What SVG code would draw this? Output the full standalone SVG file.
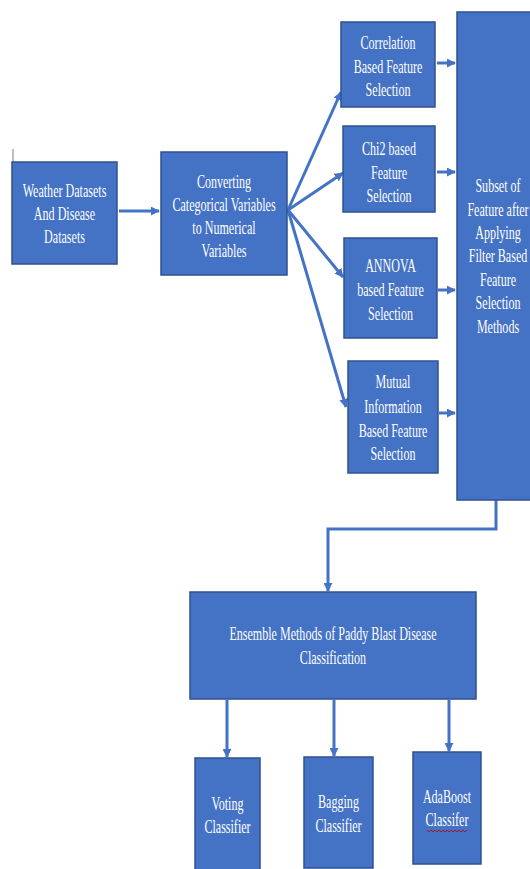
<svg xmlns="http://www.w3.org/2000/svg" width="530" height="869" viewBox="0 0 530 869">
<defs>
<marker id="ah" viewBox="0 0 10 10" refX="9" refY="5" markerWidth="3" markerHeight="3" orient="auto">
<path d="M0,0 L10,5 L0,10 z" fill="#4472C4"/>
</marker>
<style>
.box{fill:#4472C4;stroke:#2F528F;stroke-width:1.5}
.t{font-family:"Liberation Serif","Times New Roman",serif;font-size:18px;fill:#FFFFFF;text-anchor:middle}
.c{fill:none;stroke:#4472C4;stroke-width:3}
</style>
</defs>
<rect width="530" height="869" fill="#FFFFFF"/>
<line x1="13" y1="149" x2="13" y2="163" stroke="#808080" stroke-width="1"/>
<g id="connectors">
<line class="c" x1="119" y1="211" x2="159" y2="211" marker-end="url(#ah)"/>
<line class="c" x1="288" y1="210" x2="341" y2="92" marker-end="url(#ah)"/>
<line class="c" x1="288" y1="210" x2="343" y2="173" marker-end="url(#ah)"/>
<line class="c" x1="288" y1="210" x2="343" y2="277" marker-end="url(#ah)"/>
<line class="c" x1="288" y1="210" x2="346" y2="407" marker-end="url(#ah)"/>
<line class="c" x1="437" y1="63" x2="455" y2="63" marker-end="url(#ah)"/>
<line class="c" x1="437" y1="172" x2="455" y2="172" marker-end="url(#ah)"/>
<line class="c" x1="438" y1="290" x2="455" y2="290" marker-end="url(#ah)"/>
<line class="c" x1="439" y1="413" x2="455" y2="413" marker-end="url(#ah)"/>
<polyline class="c" points="496,500 496,529 328,529 328,591" marker-end="url(#ah)"/>
<line class="c" x1="227" y1="700" x2="227" y2="757" marker-end="url(#ah)"/>
<line class="c" x1="334" y1="700" x2="334" y2="756" marker-end="url(#ah)"/>
<line class="c" x1="449" y1="700" x2="449" y2="751" marker-end="url(#ah)"/>
</g>
<g id="weather">
<rect class="box" x="12" y="162" width="105" height="102"/>
<text class="t" transform="translate(64.5,197) scale(0.67,1)">Weather Datasets</text>
<text class="t" transform="translate(64.5,220) scale(0.67,1)">And Disease</text>
<text class="t" transform="translate(64.5,243) scale(0.67,1)">Datasets</text>
</g>
<g id="converting">
<rect class="box" x="161" y="152" width="126" height="123"/>
<text class="t" transform="translate(224,188) scale(0.67,1)">Converting</text>
<text class="t" transform="translate(224,211) scale(0.67,1)">Categorical Variables</text>
<text class="t" transform="translate(224,234) scale(0.67,1)">to Numerical</text>
<text class="t" transform="translate(224,257) scale(0.67,1)">Variables</text>
</g>
<g id="correlation">
<rect class="box" x="341" y="22" width="94" height="85"/>
<text class="t" transform="translate(388,49) scale(0.67,1)">Correlation</text>
<text class="t" transform="translate(388,72.5) scale(0.67,1)">Based Feature</text>
<text class="t" transform="translate(388,96) scale(0.67,1)">Selection</text>
</g>
<g id="chi2">
<rect class="box" x="343" y="126" width="92" height="86"/>
<text class="t" transform="translate(389,155) scale(0.67,1)">Chi2 based</text>
<text class="t" transform="translate(389,178.5) scale(0.67,1)">Feature</text>
<text class="t" transform="translate(389,202) scale(0.67,1)">Selection</text>
</g>
<g id="annova">
<rect class="box" x="344" y="238" width="93" height="100"/>
<text class="t" transform="translate(390.5,272) scale(0.67,1)">ANNOVA</text>
<text class="t" transform="translate(390.5,296) scale(0.67,1)">based Feature</text>
<text class="t" transform="translate(390.5,320) scale(0.67,1)">Selection</text>
</g>
<g id="mutual">
<rect class="box" x="348" y="361" width="90" height="112"/>
<text class="t" transform="translate(393,388) scale(0.67,1)">Mutual</text>
<text class="t" transform="translate(393,412.5) scale(0.67,1)">Information</text>
<text class="t" transform="translate(393,436.5) scale(0.67,1)">Based Feature</text>
<text class="t" transform="translate(393,460) scale(0.67,1)">Selection</text>
</g>
<g id="subset">
<rect class="box" x="457" y="12" width="82" height="488"/>
<text class="t" transform="translate(498,192) scale(0.67,1)">Subset of</text>
<text class="t" transform="translate(498,215.5) scale(0.67,1)">Feature after</text>
<text class="t" transform="translate(498,239) scale(0.67,1)">Applying</text>
<text class="t" transform="translate(498,262) scale(0.67,1)">Filter Based</text>
<text class="t" transform="translate(498,285.5) scale(0.67,1)">Feature</text>
<text class="t" transform="translate(498,309) scale(0.67,1)">Selection</text>
<text class="t" transform="translate(498,332.5) scale(0.67,1)">Methods</text>
</g>
<g id="ensemble">
<rect class="box" x="190" y="592" width="286" height="107"/>
<text class="t" transform="translate(333,640) scale(0.67,1)">Ensemble Methods of Paddy Blast Disease</text>
<text class="t" transform="translate(333,664) scale(0.67,1)">Classification</text>
</g>
<g id="voting">
<rect class="box" x="195" y="758" width="65" height="120"/>
<text class="t" transform="translate(227.5,810) scale(0.67,1)">Voting</text>
<text class="t" transform="translate(227.5,833) scale(0.67,1)">Classifier</text>
</g>
<g id="bagging">
<rect class="box" x="304" y="757" width="69" height="111"/>
<text class="t" transform="translate(338.5,808) scale(0.67,1)">Bagging</text>
<text class="t" transform="translate(338.5,831.5) scale(0.67,1)">Classifier</text>
</g>
<g id="adaboost">
<rect class="box" x="413" y="752" width="68" height="112"/>
<text class="t" transform="translate(447,803) scale(0.67,1)">AdaBoost</text>
<text class="t" transform="translate(447,826) scale(0.67,1)">Classifer</text>
<path d="M427,830 l2,2 l2,-2 l2,2 l2,-2 l2,2 l2,-2 l2,2 l2,-2 l2,2 l2,-2 l2,2 l2,-2 l2,2 l2,-2 l2,2 l2,-2 l2,2 l2,-2 l2,2 l2,-2" fill="none" stroke="#C00000" stroke-width="0.8"/>
</g>
</svg>
